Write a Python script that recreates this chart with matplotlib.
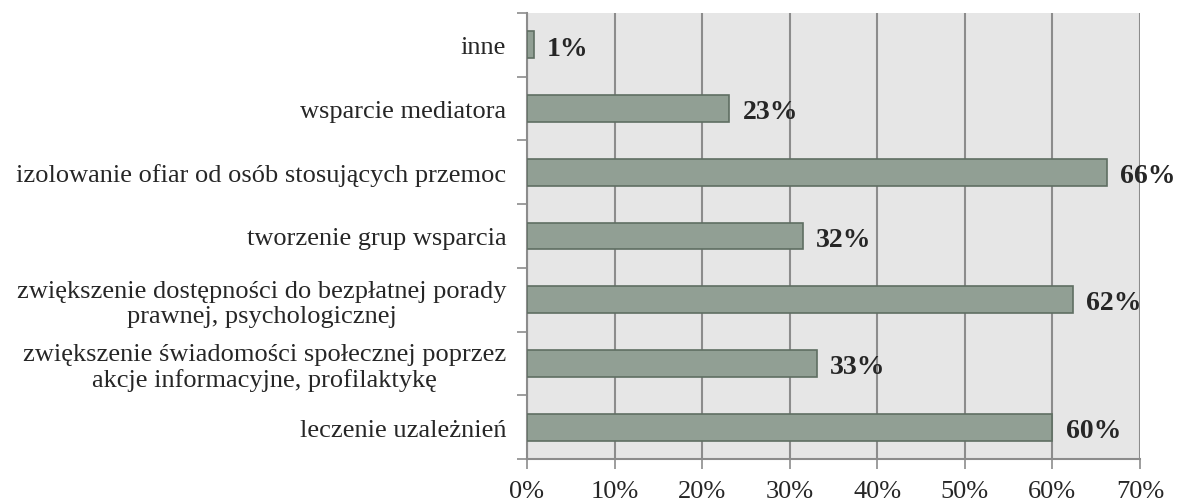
import numpy as np
import matplotlib.pyplot as plt
from matplotlib.ticker import FixedLocator, PercentFormatter

categories = [
    "leczenie uzależnień",
    "zwiększenie świadomości społecznej poprzez\nakcje informacyjne, profilaktykę",
    "zwiększenie dostępności do bezpłatnej porady\nprawnej, psychologicznej",
    "tworzenie grup wsparcia",
    "izolowanie ofiar od osób stosujących przemoc",
    "wsparcie mediatora",
    "inne",
]
values = [60.0, 33.1, 62.3, 31.5, 66.2, 23.1, 0.8]
labels = ["60%", "33%", "62%", "32%", "66%", "23%", "1%"]
xticks = [0, 10, 20, 30, 40, 50, 60, 70]

plt.rcParams['font.family'] = ['Liberation Serif', 'DejaVu Serif']

fig = plt.figure(figsize=(11.8, 5.02), dpi=100)
ax = fig.add_axes([0.4466, 0.0837, 0.5195, 0.8884])
ax.set_facecolor('#e6e6e6')

y = np.arange(len(categories))
ax.barh(y, values, height=0.42, color='#919f94', edgecolor='#5f6e62', linewidth=1.2, zorder=3)

for yi, v, lab in zip(y, values, labels):
    ax.text(v + 1.5, yi - 0.05, lab, va='center', ha='left', fontsize=20, fontweight='bold',
            color='#262626', clip_on=False, zorder=4)

ax.set_xlim(0, 70)
ax.set_ylim(-0.5, len(categories) - 0.5)
ax.set_xticks(xticks)
ax.xaxis.set_major_formatter(PercentFormatter(decimals=0))
ax.grid(axis='x', color='#8c8c8c', linewidth=1.5, zorder=1)

ax.set_yticks(y)
ax.set_yticklabels(categories, multialignment='center', linespacing=1.15)
ax.yaxis.set_minor_locator(FixedLocator(np.arange(-0.5, len(categories), 1.0)))
ax.tick_params(axis='y', which='major', length=0, pad=15, labelsize=19, labelcolor='#262626')
ax.tick_params(axis='y', which='minor', length=7, width=1.2, color='#8c8c8c')
ax.tick_params(axis='x', length=7, width=1.2, color='#8c8c8c', pad=8, labelsize=19, labelcolor='#262626')

for side in ['top', 'right']:
    ax.spines[side].set_visible(False)
for side in ['left', 'bottom']:
    ax.spines[side].set_color('#8c8c8c')
    ax.spines[side].set_linewidth(1.5)

fig.savefig('out.png', dpi=100)
